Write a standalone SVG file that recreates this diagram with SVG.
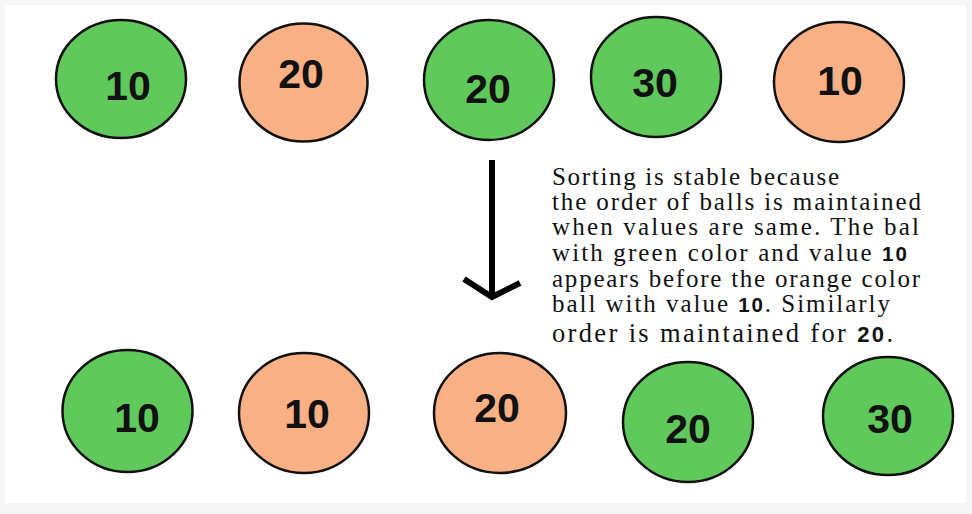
<svg xmlns="http://www.w3.org/2000/svg" width="972" height="514" viewBox="0 0 972 514">
<style>
.g{fill:#5fc95b;stroke:#111;stroke-width:2.5}
.o{fill:#f8b084;stroke:#111;stroke-width:2.5}
.n{font-family:"Liberation Sans",Arial,sans-serif;font-weight:bold;font-size:41px;fill:#111;text-anchor:middle}
.t{font-family:"Liberation Serif","Times New Roman",serif;font-size:25px;fill:#111}
.d{font-family:"Liberation Sans",Arial,sans-serif;font-weight:bold;font-size:20.5px}
.a{stroke:#000;stroke-width:6;fill:none}
</style>
<rect x="0" y="0" width="972" height="514" fill="#f6f6f6"/>
<rect x="5" y="5" width="961" height="498" fill="#ffffff"/>
<g id="top-1"><ellipse class="g" cx="121" cy="79" rx="65" ry="59"/><text class="n" x="128" y="100">10</text></g>
<g id="top-2"><ellipse class="o" cx="303.5" cy="82.5" rx="64" ry="59"/><text class="n" x="301" y="88">20</text></g>
<g id="top-3"><ellipse class="g" cx="489" cy="80" rx="65" ry="60"/><text class="n" x="488" y="103">20</text></g>
<g id="top-4"><ellipse class="g" cx="656" cy="77" rx="65" ry="60"/><text class="n" x="655" y="97">30</text></g>
<g id="top-5"><ellipse class="o" cx="839" cy="82" rx="65" ry="60"/><text class="n" x="840" y="95">10</text></g>
<g id="bot-1"><ellipse class="g" cx="127.5" cy="411" rx="65" ry="61"/><text class="n" x="137" y="432">10</text></g>
<g id="bot-2"><ellipse class="o" cx="304" cy="413" rx="65" ry="60"/><text class="n" x="307" y="428">10</text></g>
<g id="bot-3"><ellipse class="o" cx="500" cy="413" rx="66" ry="60"/><text class="n" x="497" y="422">20</text></g>
<g id="bot-4"><ellipse class="g" cx="688" cy="422" rx="65" ry="60"/><text class="n" x="688" y="443">20</text></g>
<g id="bot-5"><ellipse class="g" cx="888" cy="416" rx="65" ry="59"/><text class="n" x="890" y="433">30</text></g>
<g id="connectors">
<line class="a" x1="492" y1="160" x2="492" y2="298"/>
<polyline class="a" points="464,279 492,297 520,283"/>
</g>
<g id="note">
<text class="t" x="552" y="185" textLength="287" lengthAdjust="spacing">Sorting is stable because</text>
<text class="t" x="552" y="210" textLength="369" lengthAdjust="spacing">the order of balls is maintained</text>
<text class="t" x="552" y="235" textLength="367" lengthAdjust="spacing">when values are same. The bal</text>
<text class="t" x="552" y="261" textLength="355" lengthAdjust="spacing">with green color and value <tspan class="d">10</tspan></text>
<text class="t" x="552" y="287" textLength="368" lengthAdjust="spacing">appears before the orange color</text>
<text class="t" x="552" y="312" textLength="338" lengthAdjust="spacing">ball with value <tspan class="d">10</tspan>. Similarly</text>
<text class="t" x="552" y="342" textLength="341" lengthAdjust="spacing" style="font-size:26.5px">order is maintained for <tspan class="d" style="font-size:22px">20</tspan>.</text>
</g>
</svg>
